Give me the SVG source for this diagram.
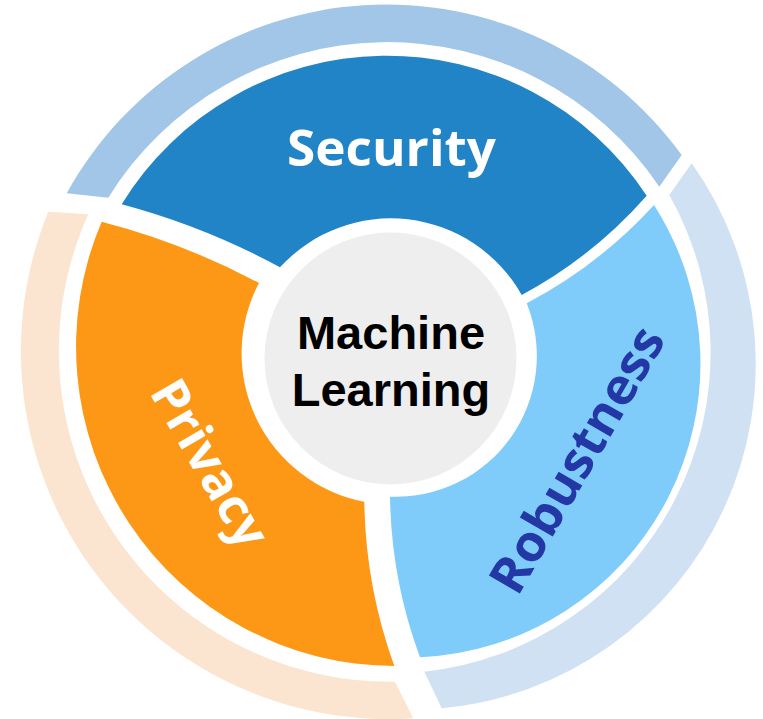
<svg xmlns="http://www.w3.org/2000/svg" width="763" height="719" viewBox="0 0 763 719">
  <style>
    .band-sec { fill: #A1C6E8; }
    .band-rob { fill: #CFE1F3; }
    .band-pri { fill: #FBE5D0; }
    .seg-sec { fill: #2184C6; }
    .seg-pri { fill: #FD9816; }
    .seg-rob { fill: #7FCCFB; }
    .hub { fill: #EEEEEE; }
    .label { font-family: "Open Sans", "Liberation Sans", sans-serif; font-weight: 700; font-size: 50px; text-anchor: middle; }
    .hub-label { font-family: "Liberation Sans", Arial, sans-serif; font-weight: 700; font-size: 47px; fill: #000000; text-anchor: middle; }
  </style>
  <rect width="763" height="719" fill="#FFFFFF"/>

  <!-- outer pale bands -->
  <g id="bands">
    <path id="band-security" class="band-sec" d="M 66.7,193.3 A 365 365 0 0 1 681.7,155 L 659.3,186.7 A 328 328 0 0 0 108.3,197.7 Z"/>
    <path id="band-robustness" class="band-rob" d="M 691.7,163.3 A 346 346 0 0 1 441.7,708.3 L 424.3,671.7 A 321 321 0 0 0 669.3,195 Z"/>
    <path id="band-privacy" class="band-pri" d="M 48.3,211.7 A 368 368 0 0 0 413.3,718.3 L 395,681.7 A 331 331 0 0 1 88.3,214.3 Z"/>
  </g>

  <!-- ring segments -->
  <g id="security">
    <path class="seg-sec" d="M 121.7,204.3 A 311 311 0 0 1 646.7,195.7 Q 592.9,256.8 521.7,295 A 150 150 0 0 0 280,267.3 Q 204.7,226.5 121.7,204.3 Z"/>
    <text class="label" x="391.5" y="166" textLength="209" lengthAdjust="spacingAndGlyphs" fill="#FFFFFF">Security</text>
  </g>

  <g id="privacy">
    <path class="seg-pri" d="M 101.7,221.7 A 319 319 0 0 0 394.3,666 Q 365.5,586.4 364.3,501.7 A 151 151 0 0 1 259,283 Q 184,243 101.7,221.7 Z"/>
    <text class="label" transform="translate(207,465) rotate(60)" x="0" y="14" textLength="185" lengthAdjust="spacingAndGlyphs" fill="#FFFFFF">Privacy</text>
  </g>

  <g id="robustness">
    <path class="seg-rob" d="M 654,205 A 294 294 0 0 1 420,657.3 Q 391.2,579.6 390,496.7 A 141 141 0 0 0 526.7,303.3 Q 599,265.2 654,205 Z"/>
    <text class="label" transform="translate(580,461.5) rotate(-60)" x="0" y="14" textLength="298" lengthAdjust="spacingAndGlyphs" fill="#2337A5">Robustness</text>
  </g>

  <g id="machine-learning">
    <circle class="hub" cx="390.5" cy="358.5" r="126"/>
    <text class="hub-label" x="391" y="349">Machine</text>
    <text class="hub-label" x="391" y="406">Learning</text>
  </g>

  <!-- no connectors in this figure -->
  <g id="connectors"/>
</svg>
